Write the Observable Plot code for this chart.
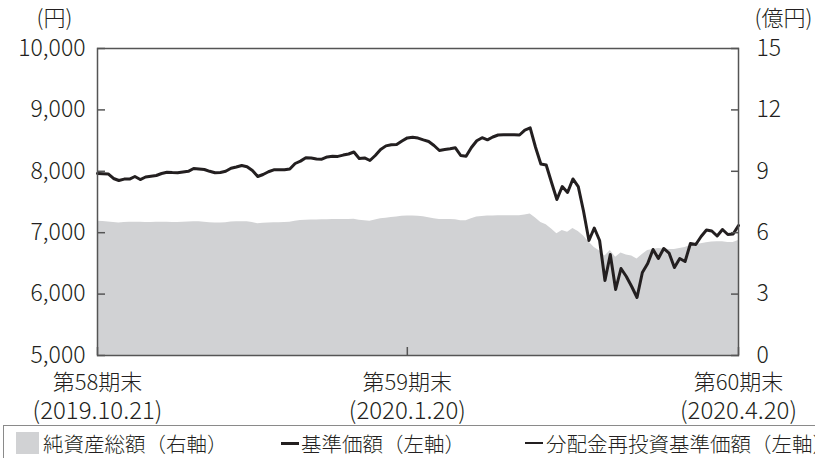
<!DOCTYPE html>
<html>
<head>
<meta charset="utf-8">
<script src="https://cdn.jsdelivr.net/npm/d3@7"></script>
<script src="https://cdn.jsdelivr.net/npm/@observablehq/plot@0.6"></script>
<style>
  html, body { margin: 0; padding: 0; background: #fff; overflow: hidden; width: 815px; height: 458px; }
  #chart svg { display: block; }
  #legend {
    position: relative; margin-left: 3px; width: 900px; height: 40px;
    border: 1px solid #8a8a8a; border-right: none; box-sizing: border-box;
    font-family: 'Noto Sans CJK JP', sans-serif; font-weight: 300; font-size: 20.5px; color: #231f20;
    white-space: nowrap;
  }
  #legend .item { position: absolute; top: 4px; line-height: 26px; display: flex; align-items: center; }
  #legend .sw { display: inline-block; width: 23px; height: 22px; background: #d1d2d4; margin-right: 4px; }
  #legend .thick { display: inline-block; width: 18px; height: 3px; background: #231f20; margin-right: 2px; }
  #legend .thin { display: inline-block; width: 18px; height: 1.5px; background: #231f20; margin-right: 3px; }
</style>
</head>
<body>
<div id="chart"></div>
<div id="legend">
  <div class="item" style="left:12px"><span class="sw"></span>純資産総額（右軸）</div>
  <div class="item" style="left:277px"><span class="thick"></span>基準価額（左軸）</div>
  <div class="item" style="left:521px"><span class="thin"></span>分配金再投資基準価額（左軸）</div>
</div>
<script>
// ---- data ----
const startDate = "2019-10-21";
const endDate = "2020-04-20";
const marketHolidays = ["2019-10-22","2019-11-04","2019-12-31","2020-01-01","2020-01-02","2020-01-03","2020-01-13","2020-02-11","2020-02-24","2020-03-20"];

// 基準価額 (円), one value per business day
const basePrice = [
  7964,7961,7958,7883,7850,7873,7873,7915,7866,7907,
  7919,7932,7964,7984,7979,7976,7989,8000,8046,8037,
  8029,8000,7976,7980,8000,8050,8070,8094,8075,8013,
  7915,7948,7993,8024,8026,8024,8037,8127,8166,8221,
  8217,8200,8197,8234,8244,8243,8264,8282,8314,8208,
  8217,8176,8257,8355,8414,8433,8436,8493,8544,8555,
  8541,8511,8485,8420,8339,8355,8366,8383,8257,8246,
  8388,8497,8547,8513,8559,8591,8594,8594,8594,8591,
  8672,8707,8392,8119,8103,7818,7541,7752,7655,7875,
  7752,7345,6873,7076,6873,6221,6645,6075,6417,6287,
  6124,5945,6352,6498,6726,6580,6743,6669,6433,6580,
  6531,6824,6808,6938,7044,7028,6946,7052,6971,6979,
  7117
];
// 分配金再投資基準価額 (円): no distribution in the period, coincides with 基準価額
const reinvestPrice = basePrice.slice();
// 純資産総額 (億円)
const netAssets = [
  6.56,6.55,6.52,6.50,6.48,6.50,6.51,6.51,6.51,6.50,
  6.50,6.51,6.51,6.51,6.50,6.50,6.51,6.52,6.53,6.53,
  6.51,6.49,6.47,6.47,6.49,6.52,6.53,6.53,6.53,6.50,
  6.44,6.46,6.48,6.49,6.49,6.50,6.51,6.56,6.60,6.61,
  6.62,6.62,6.63,6.63,6.64,6.65,6.65,6.65,6.66,6.61,
  6.58,6.56,6.62,6.68,6.71,6.74,6.77,6.80,6.82,6.82,
  6.80,6.78,6.73,6.68,6.65,6.65,6.65,6.63,6.59,6.58,
  6.68,6.77,6.79,6.81,6.82,6.83,6.83,6.83,6.83,6.83,
  6.86,6.91,6.72,6.50,6.39,6.18,5.95,6.11,6.02,6.21,
  6.06,5.84,5.54,5.28,5.11,4.86,5.13,4.80,5.01,4.91,
  4.86,4.72,4.93,5.13,5.18,5.23,5.20,5.18,5.18,5.23,
  5.28,5.37,5.41,5.46,5.51,5.55,5.56,5.56,5.52,5.52,
  5.62
];

const periodLabels = ["第58期末", "第59期末", "第60期末"];
const periodDates  = ["2019-10-21", "2020-01-20", "2020-04-20"];
const periodDateText = ["(2019.10.21)", "(2020.1.20)", "(2020.4.20)"];

const leftTicks = [5000, 6000, 7000, 8000, 9000, 10000];
const rightTicks = [0, 3, 6, 9, 12, 15];
const leftDomain = [5000, 10000];
const rightDomain = [0, 15];
const leftUnit = "(円)";
const rightUnit = "(億円)";

// ---- business-day calendar (categories) ----
const fmt = d3.utcFormat("%Y-%m-%d");
const dates = d3.utcDays(new Date(startDate), d3.utcDay.offset(new Date(endDate), 1))
  .filter(d => d.getUTCDay() !== 0 && d.getUTCDay() !== 6)
  .map(fmt)
  .filter(s => !marketHolidays.includes(s));

const k = (leftDomain[1] - leftDomain[0]) / (rightDomain[1] - rightDomain[0]);
const toLeft = v => leftDomain[0] + (v - rightDomain[0]) * k;
const fromLeft = v => Math.round(rightDomain[0] + (v - leftDomain[0]) / k);

const rows = dates.map((d, i) => ({ i, date: d, price: basePrice[i], reinvest: reinvestPrice[i], nav: netAssets[i] }));
const periodIdx = periodDates.map(d => dates.indexOf(d));

const ink = "#231f20";
const axisStroke = "#555";
const chart = Plot.plot({
  width: 815,
  height: 425,
  marginLeft: 97,
  marginRight: 77,
  marginTop: 48,
  marginBottom: 70,
  style: { fontFamily: "'Noto Sans CJK JP', sans-serif", fontWeight: 300, fontSize: "23px", color: ink, background: "#fff" },
  x: { domain: [0, dates.length - 1] },
  y: { domain: leftDomain },
  marks: [
    Plot.areaY(rows, { x: "i", y1: leftDomain[0], y2: d => toLeft(d.nav), fill: "#d1d2d4" }),
    Plot.lineY(rows, { x: "i", y: "reinvest", stroke: ink, strokeWidth: 1 }),
    Plot.lineY(rows, { x: "i", y: "price", stroke: ink, strokeWidth: 3, strokeLinejoin: "round" }),
    Plot.frame({ stroke: axisStroke, strokeWidth: 1.5 }),
    Plot.axisY({ anchor: "left", ticks: leftTicks, tickFormat: d3.format(","), tickSize: 8, dx: 8, tickPadding: 12, label: null, stroke: axisStroke, strokeWidth: 1.5, fill: ink }),
    Plot.axisY({ anchor: "right", ticks: rightTicks.map(toLeft), tickFormat: fromLeft, tickSize: 8, dx: -8, tickPadding: 18, label: null, stroke: axisStroke, strokeWidth: 1.5, fill: ink }),
    Plot.axisX({ ticks: periodIdx, tickSize: 8, dy: -8, tickFormat: () => "", label: null, stroke: axisStroke, strokeWidth: 1.5 }),
    Plot.text(periodIdx, { x: d => d, frameAnchor: "bottom", text: (d, j) => periodLabels[j], lineAnchor: "middle", dy: 27, fontSize: 22, fill: ink }),
    Plot.text(periodIdx, { x: d => d, frameAnchor: "bottom", text: (d, j) => periodDateText[j], lineAnchor: "middle", dy: 56, fontSize: 24, fill: ink }),
    Plot.text([leftUnit], { frameAnchor: "top-left", textAnchor: "middle", lineAnchor: "middle", dx: -43, dy: -30, fontSize: 22, fill: ink }),
    Plot.text([rightUnit], { frameAnchor: "top-right", textAnchor: "middle", lineAnchor: "middle", dx: 45, dy: -30, fontSize: 22, fill: ink })
  ]
});
document.getElementById("chart").appendChild(chart);
</script>
</body>
</html>
